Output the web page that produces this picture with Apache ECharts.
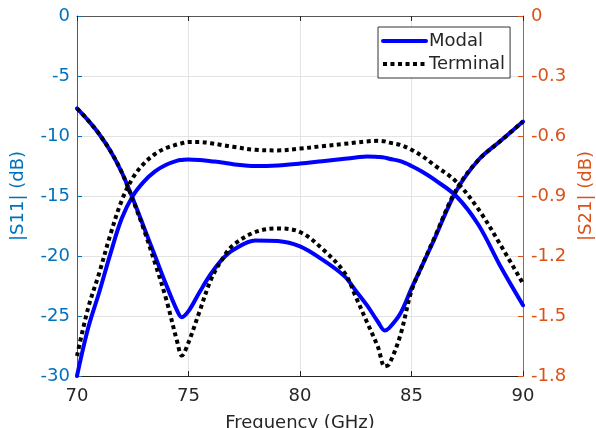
<!DOCTYPE html>
<html>
<head>
<meta charset="utf-8">
<script src="https://cdn.jsdelivr.net/npm/echarts@6/dist/echarts.min.js"></script>
<style>
  html, body { margin: 0; padding: 0; background: #fff; }
  #chart { width: 596px; height: 428px; }
</style>
</head>
<body>
<div id="chart"></div>
<script>
// Frequency sweep points (GHz)
const freq = [70, 70.5, 71, 71.5, 72, 72.5, 73, 73.5, 74, 74.5, 74.7, 75, 75.5, 76, 76.5, 77, 78, 79, 80, 81, 82, 82.5, 83, 83.5, 83.8, 84, 84.5, 85, 85.5, 86, 87, 88, 89, 90];

// |S11| in dB (left axis)
const s11Modal = [-7.7, -8.7, -9.85, -11.25, -13.0, -15.2, -17.6, -20.0, -22.4, -24.6, -25.1, -24.6, -23.0, -21.5, -20.3, -19.5, -18.7, -18.75, -19.2, -20.3, -21.7, -22.9, -24.1, -25.5, -26.2, -26.0, -24.8, -22.7, -20.7, -18.7, -14.6, -12.0, -10.4, -8.8];
const s11Terminal = [-7.7, -8.7, -9.85, -11.25, -13.0, -15.3, -17.8, -20.6, -23.6, -27.2, -28.3, -27.2, -24.6, -22.0, -20.3, -19.1, -18.0, -17.7, -18.0, -19.4, -21.4, -23.4, -25.5, -27.6, -29.2, -29.0, -26.6, -22.9, -20.7, -18.6, -14.5, -12.0, -10.4, -8.8];

// |S21| in dB (right axis)
const s21Modal = [-1.8, -1.56, -1.38, -1.188, -1.014, -0.9, -0.828, -0.777, -0.744, -0.723, -0.72, -0.717, -0.72, -0.726, -0.732, -0.741, -0.75, -0.747, -0.738, -0.726, -0.714, -0.708, -0.702, -0.705, -0.708, -0.714, -0.726, -0.75, -0.78, -0.816, -0.9, -1.044, -1.254, -1.446];
const s21Terminal = [-1.7, -1.46, -1.284, -1.092, -0.924, -0.81, -0.738, -0.69, -0.66, -0.642, -0.636, -0.63, -0.63, -0.636, -0.645, -0.654, -0.669, -0.672, -0.663, -0.651, -0.639, -0.633, -0.627, -0.624, -0.627, -0.633, -0.645, -0.669, -0.702, -0.744, -0.828, -0.966, -1.146, -1.338];

// Axis ranges and tick steps
const xTicks = { min: 70, max: 90, step: 5 };
const s11Ticks = { min: -30, max: 0, step: 5 };
const s21Ticks = { min: -1.8, max: 0, step: 0.3 };

const FONT = 'DejaVu Sans';
const BLUE_AXIS = '#0072BD';
const ORANGE_AXIS = '#D95319';
const DARK = '#262626';
const GRID = '#e3e3e3';

const pairs = (ys) => freq.map((f, i) => [f, ys[i]]);

const modalStyle = { color: '#0000ff', width: 4, type: 'solid', cap: 'round', join: 'round' };
const terminalStyle = { color: '#000000', width: 4, type: [4, 3.5], cap: 'butt', join: 'round' };

const chart = echarts.init(document.getElementById('chart'), null, { renderer: 'canvas' });

const curve = (name, axis, ys, style, color, z) => ({
  name, type: 'line', xAxisIndex: 0, yAxisIndex: axis,
  data: pairs(ys), symbol: 'none', smooth: 0.35,
  lineStyle: style, itemStyle: { color }, z
});

chart.setOption({
  animation: false,
  backgroundColor: '#ffffff',
  textStyle: { fontFamily: FONT },
  grid: { left: 77, right: 73, top: 16, bottom: 52, containLabel: false, outerBoundsMode: 'none' },
  legend: {
    orient: 'vertical',
    left: 378,
    top: 27,
    padding: [5, 5, 5, 3],
    itemGap: 5,
    itemWidth: 43,
    itemHeight: 14,
    backgroundColor: '#ffffff',
    borderColor: '#333333',
    borderWidth: 1,
    borderRadius: 0,
    itemStyle: { opacity: 0 },
    lineStyle: { width: 4 },
    textStyle: { fontFamily: FONT, fontSize: 18, color: DARK, padding: [0, 0, 0, -2] },
    data: ['Modal', 'Terminal']
  },
  xAxis: [
    {
      type: 'value',
      min: xTicks.min,
      max: xTicks.max,
      interval: xTicks.step,
      name: 'Frequency (GHz)',
      nameLocation: 'middle',
      nameGap: 38,
      nameTextStyle: { fontFamily: FONT, fontSize: 18, color: DARK },
      axisLine: { show: true, onZero: false, lineStyle: { color: DARK, width: 1 } },
      axisTick: { show: true, inside: true, length: 5, lineStyle: { color: DARK } },
      axisLabel: { fontFamily: FONT, fontSize: 18, color: DARK, margin: 11 },
      splitLine: { show: true, lineStyle: { color: GRID, width: 1 } }
    },
    {
      type: 'value',
      position: 'top',
      min: xTicks.min,
      max: xTicks.max,
      interval: xTicks.step,
      axisLine: { show: true, onZero: false, lineStyle: { color: '#555555', width: 1 } },
      axisTick: { show: true, inside: true, length: 5, lineStyle: { color: DARK } },
      axisLabel: { show: false },
      splitLine: { show: false }
    }
  ],
  yAxis: [
    {
      type: 'value',
      position: 'left',
      min: s11Ticks.min,
      max: s11Ticks.max,
      interval: s11Ticks.step,
      name: '|S11| (dB)',
      nameLocation: 'middle',
      nameRotate: 90,
      nameGap: 50,
      nameTextStyle: { fontFamily: FONT, fontSize: 18, color: BLUE_AXIS },
      axisLine: { show: true, onZero: false, lineStyle: { color: BLUE_AXIS, width: 1 } },
      axisTick: { show: true, inside: true, length: 5, lineStyle: { color: BLUE_AXIS } },
      axisLabel: { fontFamily: FONT, fontSize: 18, color: BLUE_AXIS, margin: 7 },
      splitLine: { show: true, lineStyle: { color: GRID, width: 1 } }
    },
    {
      type: 'value',
      position: 'right',
      min: s21Ticks.min,
      max: s21Ticks.max,
      interval: s21Ticks.step,
      name: '|S21| (dB)',
      nameLocation: 'middle',
      nameRotate: 90,
      nameGap: 54,
      nameTextStyle: { fontFamily: FONT, fontSize: 18, color: ORANGE_AXIS },
      axisLine: { show: true, onZero: false, lineStyle: { color: ORANGE_AXIS, width: 1 } },
      axisTick: { show: true, inside: true, length: 5, lineStyle: { color: ORANGE_AXIS } },
      axisLabel: {
        fontFamily: FONT, fontSize: 18, color: ORANGE_AXIS, margin: 8,
        formatter: (v) => (Math.abs(v) < 1e-9 ? '0' : v.toFixed(1))
      },
      splitLine: { show: false }
    }
  ],
  series: [
    curve('Modal', 0, s11Modal, modalStyle, '#0000ff', 2),
    curve('Modal', 1, s21Modal, modalStyle, '#0000ff', 2),
    curve('Terminal', 0, s11Terminal, terminalStyle, '#000000', 3),
    curve('Terminal', 1, s21Terminal, terminalStyle, '#000000', 3)
  ]
});
</script>
</body>
</html>
